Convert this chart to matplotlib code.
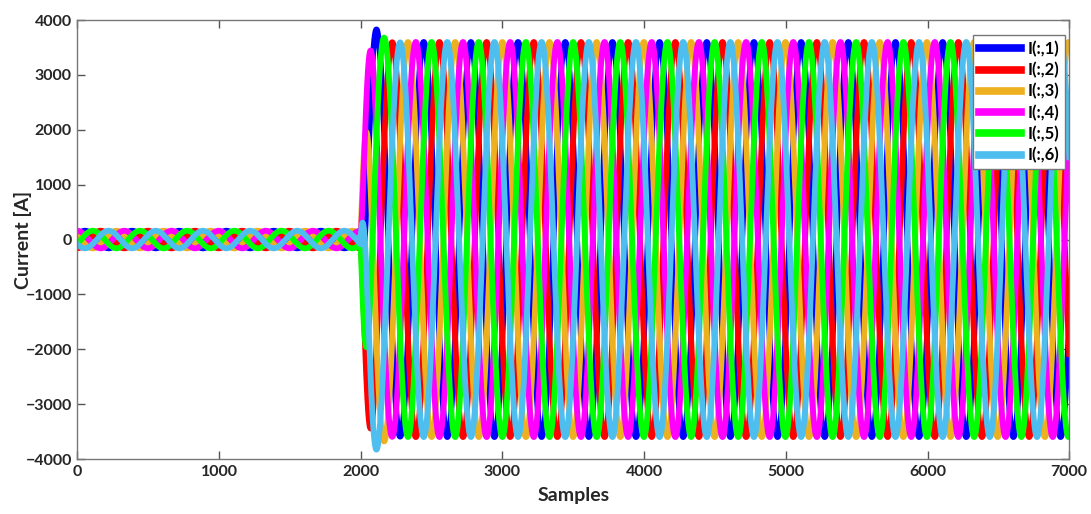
import numpy as np
import matplotlib
matplotlib.use("Agg")
import matplotlib.pyplot as plt

# signal description
n_samples = 7000
period = 333            # samples per cycle (both before and after the fault)
fault_sample = 2000
pre_amp = 160           # A, before the fault
post_amp = 3600         # A, after the fault
pre_peak_ref = 53       # a peak of I(:,1) before the fault
post_peak_ref = 2111    # first peak of I(:,1) after the fault
# phase lag of each current, degrees (peaks come in order 4,1,5,2,6,3)
phase_deg = [0, 120, 240, -60, 60, 180]
# decay / ring of the amplitude step at the fault
step_decay = 0.022
step_ring = 0.022

labels = ['I(:,1)', 'I(:,2)', 'I(:,3)', 'I(:,4)', 'I(:,5)', 'I(:,6)']
colors = ['#0000FF', '#FF0000', '#EDB120', '#FF00FF', '#00FF00', '#4DBEEE']

plt.rcParams['font.family'] = ['Lato', 'DejaVu Sans']
plt.rcParams['font.weight'] = 'bold'

t = np.arange(n_samples + 1)
s = np.clip(t - fault_sample, 0, None)
post = t >= fault_sample
env = np.where(post,
               pre_amp + (post_amp - pre_amp) * (1 - np.exp(-step_decay * s) * np.cos(step_ring * s)),
               pre_amp)
ref = np.where(post, post_peak_ref, pre_peak_ref)

fig = plt.figure(figsize=(10.91, 5.14), dpi=100)
ax = fig.add_axes([0.071, 0.107, 0.909, 0.854])

for k in range(6):
    i_k = env * np.cos(2 * np.pi * (t - ref) / period - np.radians(phase_deg[k]))
    ax.plot(t, i_k, color=colors[k], lw=4.2, label=labels[k])

ax.set_xlim(0, 7000)
ax.set_ylim(-4000, 4000)
ax.set_xticks(range(0, 7001, 1000))
ax.set_yticks(range(-4000, 4001, 1000))
ax.tick_params(direction='in', top=True, right=True, length=6, width=1,
               color='#555555', labelsize=11.5, labelcolor='#262626', pad=4)
for sp in ax.spines.values():
    sp.set_color('#777777')
    sp.set_linewidth(1)
ax.set_xlabel('Samples', fontsize=14, fontweight='bold', color='#262626', labelpad=6)
ax.set_ylabel('Current [A]', fontsize=14, fontweight='bold', color='#262626')
ax.yaxis.set_label_coords(-0.046, 0.5)

leg = ax.legend(loc='upper right', bbox_to_anchor=(0.996, 0.966), borderaxespad=0,
                fancybox=False, framealpha=1, edgecolor='#777777', fontsize=12,
                handlelength=2.5, handletextpad=0.4, labelspacing=0.3,
                borderpad=0.35)
for line in leg.get_lines():
    line.set_linewidth(5.5)

fig.savefig('out.png', dpi=100)
